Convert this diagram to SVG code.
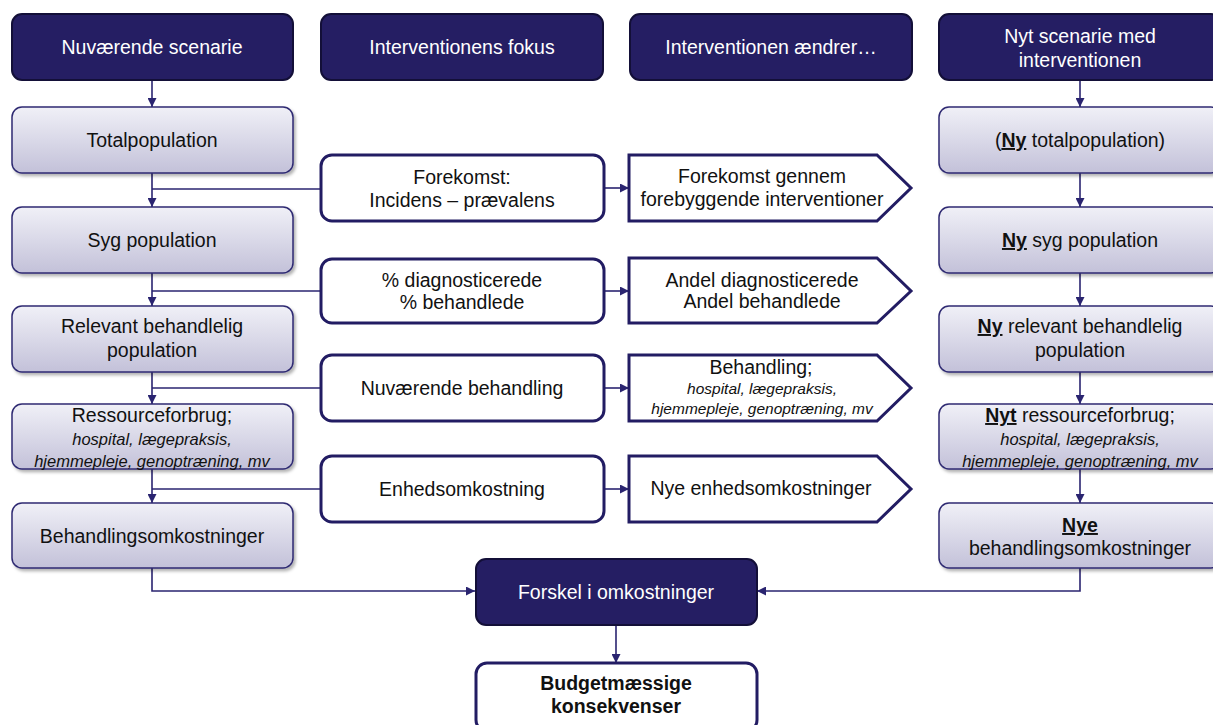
<svg xmlns="http://www.w3.org/2000/svg" width="1213" height="725" viewBox="0 0 1213 725">
<defs>
<linearGradient id="lg" x1="0" y1="0" x2="0" y2="1">
<stop offset="0" stop-color="#F0F0F7"/>
<stop offset="1" stop-color="#C3C1D9"/>
</linearGradient>
<filter id="sh" x="-5%" y="-5%" width="112%" height="125%">
<feDropShadow dx="2" dy="2.5" stdDeviation="1.5" flood-color="#000" flood-opacity="0.3"/>
</filter>
<marker id="ah" viewBox="0 0 10 10" refX="10" refY="5" markerWidth="9" markerHeight="9" markerUnits="userSpaceOnUse" orient="auto">
<path d="M0,0 L10,5 L0,10 z" fill="#2A2470"/>
</marker>
<style>
.hd{fill:#251E63;stroke:#130F38;stroke-width:2}
.lt{fill:url(#lg);stroke:#2F2A72;stroke-width:1.5}
.wb{fill:#fff;stroke:#221C63;stroke-width:3}
.ht{font-family:"Liberation Sans",Arial,sans-serif;font-size:19.5px;fill:#fff;text-anchor:middle}
.t{font-family:"Liberation Sans",Arial,sans-serif;font-size:19.5px;fill:#111;text-anchor:middle}
.it{font-family:"Liberation Sans",Arial,sans-serif;font-size:16.5px;font-style:italic;fill:#111;text-anchor:middle}
.it2{font-family:"Liberation Sans",Arial,sans-serif;font-size:15.5px;font-style:italic;fill:#111;text-anchor:middle}
.b{font-weight:bold;text-decoration:underline}
.bd{font-family:"Liberation Sans",Arial,sans-serif;font-size:19.5px;font-weight:bold;fill:#111;text-anchor:middle}
.c{fill:none;stroke:#2A2470;stroke-width:1.6}
</style>
</defs>
<rect width="1213" height="725" fill="#fff"/>

<g id="connectors">
<path class="c" d="M152,80 V107" marker-end="url(#ah)"/>
<path class="c" d="M152,173 V207" marker-end="url(#ah)"/>
<path class="c" d="M152,189 H321"/>
<path class="c" d="M152,273 V306" marker-end="url(#ah)"/>
<path class="c" d="M152,291 H321"/>
<path class="c" d="M152,372 V404" marker-end="url(#ah)"/>
<path class="c" d="M152,388 H321"/>
<path class="c" d="M152,469 V503" marker-end="url(#ah)"/>
<path class="c" d="M152,489 H321"/>
<path class="c" d="M152,568 V591 H475" marker-end="url(#ah)"/>
<path class="c" d="M604,188 H629" marker-end="url(#ah)"/>
<path class="c" d="M604,291 H629" marker-end="url(#ah)"/>
<path class="c" d="M604,388 H629" marker-end="url(#ah)"/>
<path class="c" d="M604,489 H629" marker-end="url(#ah)"/>
<path class="c" d="M1080,80 V107" marker-end="url(#ah)"/>
<path class="c" d="M1080,173 V207" marker-end="url(#ah)"/>
<path class="c" d="M1080,273 V306" marker-end="url(#ah)"/>
<path class="c" d="M1080,372 V404" marker-end="url(#ah)"/>
<path class="c" d="M1080,469 V503" marker-end="url(#ah)"/>
<path class="c" d="M1080,568 V591 H757" marker-end="url(#ah)"/>
<path class="c" d="M616,625 V663" marker-end="url(#ah)"/>
</g>

<g id="h1"><rect class="hd" x="12" y="14" width="281" height="66" rx="10"/><text class="ht" x="152" y="54">Nuværende scenarie</text></g>
<g id="h2"><rect class="hd" x="321" y="14" width="282" height="66" rx="10"/><text class="ht" x="462" y="54">Interventionens fokus</text></g>
<g id="h3"><rect class="hd" x="630" y="14" width="282" height="66" rx="10"/><text class="ht" x="771" y="54">Interventionen ændrer…</text></g>
<g id="h4"><rect class="hd" x="939" y="14" width="282" height="66" rx="10"/><text class="ht" x="1080" y="43">Nyt scenarie med</text><text class="ht" x="1080" y="67">interventionen</text></g>

<g id="l1"><rect class="lt" filter="url(#sh)" x="12" y="107" width="281" height="66" rx="10"/><text class="t" x="152" y="147">Totalpopulation</text></g>
<g id="l2"><rect class="lt" filter="url(#sh)" x="12" y="207" width="281" height="66" rx="10"/><text class="t" x="152" y="247">Syg population</text></g>
<g id="l3"><rect class="lt" filter="url(#sh)" x="12" y="306" width="281" height="66" rx="10"/><text class="t" x="152" y="333">Relevant behandlelig</text><text class="t" x="152" y="357">population</text></g>
<g id="l4"><rect class="lt" filter="url(#sh)" x="12" y="404" width="281" height="65" rx="10"/><text class="t" x="152" y="422">Ressourceforbrug;</text><text class="it" x="152" y="445">hospital, lægepraksis,</text><text class="it" x="152" y="467">hjemmepleje, genoptræning, mv</text></g>
<g id="l5"><rect class="lt" filter="url(#sh)" x="12" y="503" width="281" height="65" rx="10"/><text class="t" x="152" y="543">Behandlingsomkostninger</text></g>

<g id="m1"><rect class="wb" x="321" y="155" width="283" height="66" rx="11"/><text class="t" x="462" y="184">Forekomst:</text><text class="t" x="462" y="207">Incidens – prævalens</text></g>
<g id="m2"><rect class="wb" x="321" y="259" width="283" height="64" rx="11"/><text class="t" x="462" y="287">% diagnosticerede</text><text class="t" x="462" y="309">% behandlede</text></g>
<g id="m3"><rect class="wb" x="321" y="355" width="283" height="66" rx="11"/><text class="t" x="462" y="395">Nuværende behandling</text></g>
<g id="m4"><rect class="wb" x="321" y="456" width="283" height="66" rx="11"/><text class="t" x="462" y="496">Enhedsomkostning</text></g>

<g id="p1"><path class="wb" d="M629,155 H877 L911,188 L877,221 H629 Z"/><text class="t" x="762" y="183">Forekomst gennem</text><text class="t" x="762" y="206">forebyggende interventioner</text></g>
<g id="p2"><path class="wb" d="M629,258 H877 L911,291 L877,323 H629 Z"/><text class="t" x="762" y="287">Andel diagnosticerede</text><text class="t" x="762" y="308">Andel behandlede</text></g>
<g id="p3"><path class="wb" d="M629,355 H877 L911,388 L877,421 H629 Z"/><text class="t" x="761" y="374">Behandling;</text><text class="it2" x="762" y="394">hospital, lægepraksis,</text><text class="it2" x="762" y="414">hjemmepleje, genoptræning, mv</text></g>
<g id="p4"><path class="wb" d="M629,456 H877 L911,489 L877,522 H629 Z"/><text class="t" x="761" y="495">Nye enhedsomkostninger</text></g>

<g id="r1"><rect class="lt" filter="url(#sh)" x="939" y="107" width="282" height="66" rx="10"/><text class="t" x="1080" y="147">(<tspan class="b">Ny</tspan> totalpopulation)</text></g>
<g id="r2"><rect class="lt" filter="url(#sh)" x="939" y="207" width="282" height="66" rx="10"/><text class="t" x="1080" y="247"><tspan class="b">Ny</tspan> syg population</text></g>
<g id="r3"><rect class="lt" filter="url(#sh)" x="939" y="306" width="282" height="66" rx="10"/><text class="t" x="1080" y="333"><tspan class="b">Ny</tspan> relevant behandlelig</text><text class="t" x="1080" y="357">population</text></g>
<g id="r4"><rect class="lt" filter="url(#sh)" x="939" y="404" width="282" height="65" rx="10"/><text class="t" x="1080" y="422"><tspan class="b">Nyt</tspan> ressourceforbrug;</text><text class="it" x="1080" y="445">hospital, lægepraksis,</text><text class="it" x="1080" y="467">hjemmepleje, genoptræning, mv</text></g>
<g id="r5"><rect class="lt" filter="url(#sh)" x="939" y="503" width="282" height="65" rx="10"/><text class="t" x="1080" y="532"><tspan class="b">Nye</tspan></text><text class="t" x="1080" y="555">behandlingsomkostninger</text></g>

<g id="forskel"><rect class="hd" x="476" y="559" width="281" height="66" rx="10"/><text class="ht" x="616" y="599">Forskel i omkostninger</text></g>
<g id="budget"><rect class="wb" x="476" y="663" width="281" height="68" rx="11"/><text class="bd" x="616" y="690">Budgetmæssige</text><text class="bd" x="616" y="713">konsekvenser</text></g>
</svg>
